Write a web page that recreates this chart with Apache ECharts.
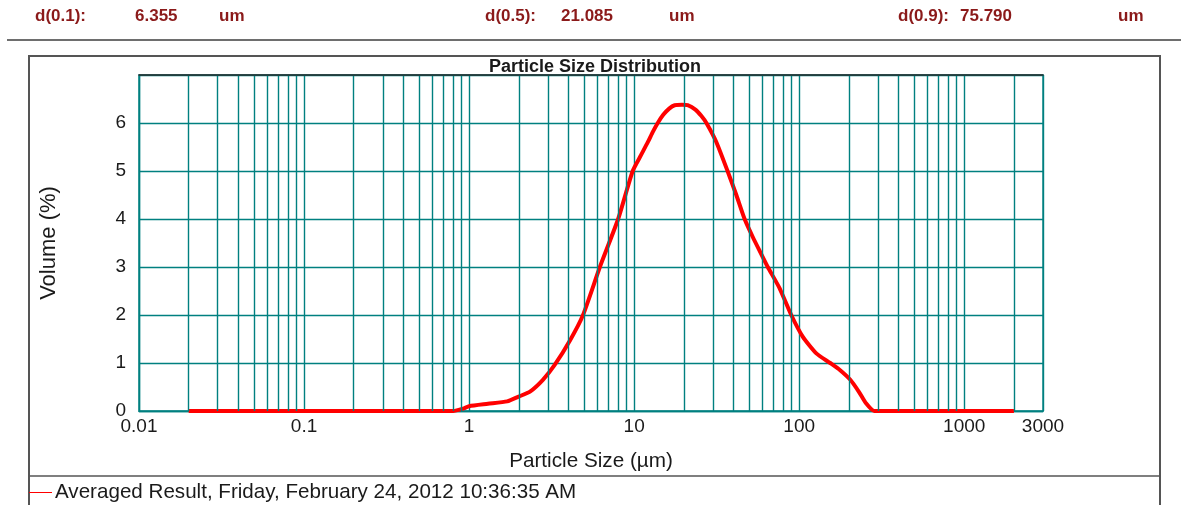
<!DOCTYPE html>
<html>
<head>
<meta charset="utf-8">
<script src="https://cdn.jsdelivr.net/npm/echarts@6/dist/echarts.min.js"></script>
<style>
  html, body { margin: 0; padding: 0; background: #fff; }
  #chart { width: 1181px; height: 505px; }
</style>
</head>
<body>
<div id="chart"></div>
<script>
// header summary values
const headerLabels = ['d(0.1):', 'd(0.5):', 'd(0.9):'];
const headerValues = ['6.355', '21.085', '75.790'];
const headerUnit = 'um';

// particle size (um) and volume (%)
const sizes = [0.02, 0.1, 0.5, 0.8, 0.92, 1.0, 1.3, 1.7, 2.0, 2.35, 2.8, 3.3, 4.1, 4.9,
  6.2, 8.0, 9.8, 11.0, 12.1, 13.0, 13.9, 15.0, 16.3, 17.6, 19.5, 21.1, 23.5, 25.5, 27.4,
  31.5, 36.8, 41.6, 46.7, 52.4, 58.3, 64.5, 76, 89.5, 105, 127, 154, 177, 204, 230, 254,
  285, 500, 1000, 2000];
const volume = [0, 0, 0, 0, 0.05, 0.1, 0.15, 0.2, 0.3, 0.41, 0.65, 0.96, 1.48, 2.0,
  3.0, 4.0, 5.0, 5.33, 5.6, 5.82, 6.0, 6.17, 6.3, 6.37, 6.38, 6.37, 6.28, 6.15, 6.0,
  5.6, 5.0, 4.5, 4.0, 3.62, 3.3, 3.0, 2.56, 2.0, 1.55, 1.2, 1.0, 0.85, 0.65, 0.4, 0.16,
  0, 0, 0, 0];

const xMin = 0.01, xMax = 3000;
const yMax = 7;
const seriesName = 'Averaged Result, Friday, February 24, 2012 10:36:35 AM';

// minor log grid lines: 2..9 in each decade
const decades = [0.01, 0.1, 1, 10, 100, 1000];
const minorSteps = [2, 3, 4, 5, 6, 7, 8, 9];

const gridColor = '#008080';
const gridWidth = 1.4;
const textColor = '#1a1a1a';
const headColor = '#8b1a1a';
const font = 'Arial, "Liberation Sans", sans-serif';

const minorLines = [];
decades.forEach(d => minorSteps.forEach(m => {
  const v = +(d * m).toPrecision(3);
  if (v < xMax) minorLines.push({ xAxis: v });
}));

const curve = sizes.map((s, i) => [s, volume[i]]);

const chart = echarts.init(document.getElementById('chart'));

const headerX = [[35, 135, 219], [485, 561, 669], [898, 960, 1118]];
const headerText = [];
headerLabels.forEach((lab, i) => {
  [lab, headerValues[i], headerUnit].forEach((t, j) => {
    headerText.push({
      type: 'text', left: headerX[i][j], top: 8,
      style: { text: t, fill: headColor, font: 'bold 17px ' + font }
    });
  });
});

const option = {
  animation: false,
  title: {
    text: 'Particle Size Distribution',
    left: 489, top: 58, padding: 0,
    textStyle: { fontFamily: font, fontSize: 18, fontWeight: 'bold', color: textColor }
  },
  legend: {
    data: [seriesName],
    left: 29, top: 482, padding: 0,
    icon: 'rect', itemWidth: 23, itemHeight: 1, itemGap: 3,
    textStyle: { fontFamily: font, fontSize: 20.6, color: textColor, padding: [0, 0, 0, -2] }
  },
  grid: {
    left: 139, right: 138, top: 75, height: 336,
    show: true, borderColor: gridColor, borderWidth: gridWidth,
    outerBoundsMode: 'none'
  },
  xAxis: [{
    type: 'log', logBase: 10, min: xMin, max: xMax,
    name: 'Particle Size (µm)', nameLocation: 'middle', nameGap: 40,
    nameTextStyle: { fontFamily: font, fontSize: 20.7, color: textColor },
    axisLine: { lineStyle: { color: gridColor, width: gridWidth } },
    axisTick: { show: false },
    axisLabel: {
      margin: 6, fontFamily: font, fontSize: 19, color: textColor,
      formatter: v => String(+(+v).toPrecision(4))
    },
    splitLine: { show: true, lineStyle: { color: gridColor, width: gridWidth } }
  }, {
    type: 'log', logBase: 10, min: xMin, max: xMax, position: 'top', z: 5,
    axisLine: { lineStyle: { color: '#2b2b2b', width: 1.5 } },
    axisTick: { show: false }, axisLabel: { show: false }, splitLine: { show: false }
  }],
  yAxis: {
    type: 'value', min: 0, max: yMax, interval: 1,
    name: 'Volume (%)', nameLocation: 'middle', nameGap: 79,
    nameTextStyle: { fontFamily: font, fontSize: 22, color: textColor },
    axisLine: { show: true, lineStyle: { color: gridColor, width: gridWidth } },
    axisTick: { show: false },
    axisLabel: { margin: 13, fontFamily: font, fontSize: 19, color: textColor, showMaxLabel: false },
    splitLine: { show: true, lineStyle: { color: gridColor, width: gridWidth } }
  },
  series: [{
    name: 'minor grid', type: 'line', z: 1, data: curve,
    symbol: 'none', lineStyle: { opacity: 0 }, silent: true,
    markLine: {
      silent: true, symbol: ['none', 'none'], label: { show: false },
      lineStyle: { color: gridColor, width: gridWidth, type: 'solid' },
      data: minorLines
    }
  }, {
    name: seriesName, type: 'line', z: 4, data: curve,
    symbol: 'none', smooth: 0.2,
    itemStyle: { color: '#ff0000' },
    lineStyle: { color: '#ff0000', width: 4 }
  }],
  graphic: [
    ...headerText,
    { type: 'line', shape: { x1: 7, y1: 40, x2: 1181, y2: 40 }, style: { stroke: '#6e6e6e', lineWidth: 2 } },
    { type: 'polyline', shape: { points: [[29, 505], [29, 56], [1160, 56], [1160, 505]] },
      style: { stroke: '#555', lineWidth: 2, fill: null } },
    { type: 'line', shape: { x1: 29, y1: 476, x2: 1160, y2: 476 }, style: { stroke: '#555', lineWidth: 1.5 } }
  ]
};

chart.setOption(option);
</script>
</body>
</html>
